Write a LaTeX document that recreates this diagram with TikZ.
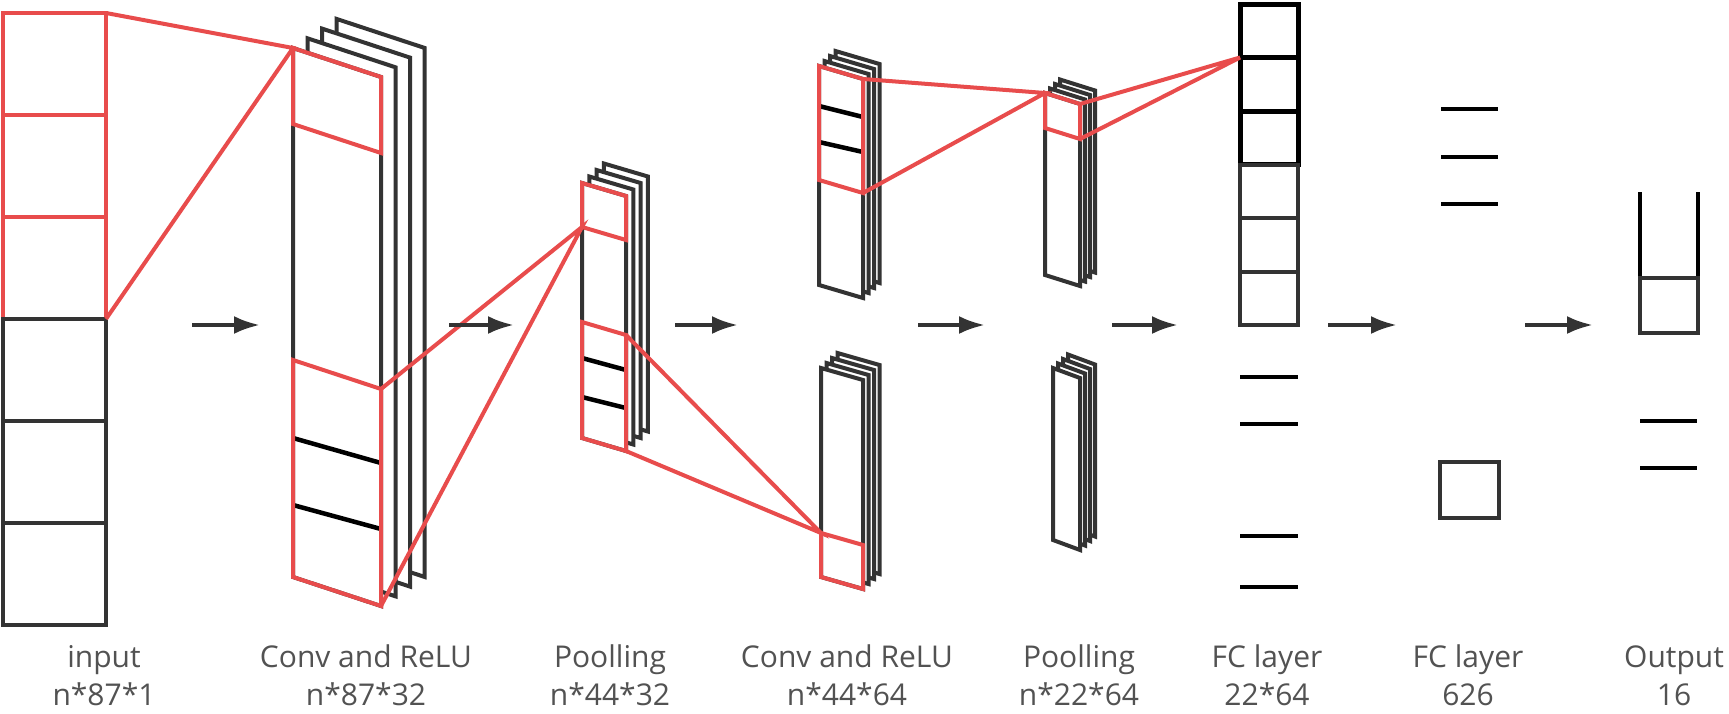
\documentclass[tikz,border=0pt]{standalone}
\usepackage{fontspec}
\setmainfont{Open Sans}
\usetikzlibrary{arrows.meta}

\definecolor{netred}{RGB}{232,76,76}
\definecolor{netgray}{RGB}{51,51,51}

% one feature map: x, y of top left corner, width, height, skew
\newcommand{\slab}[5]{%
  \filldraw[frame, fill=white] (#1,#2) -- ++(#3,#5) -- ++(0,#4) -- ++(-#3,-#5) -- cycle;}
% stack of maps: x, y, width, height, skew, dx, dy, back layers
\newcommand{\stack}[8]{%
  \foreach \k in {#8,...,1} {\slab{#1+\k*#6}{#2+\k*#7}{#3}{#4}{#5}}
  \slab{#1}{#2}{#3}{#4}{#5}}
% red window on a map
\newcommand{\patch}[5]{%
  \draw[win] (#1,#2) -- ++(#3,#5) -- ++(0,#4) -- ++(-#3,-#5) -- cycle;}

\begin{document}
\begin{tikzpicture}[x=1pt, y=-1pt,
    frame/.style={draw=netgray, line width=4pt},
    win/.style={draw=netred, line width=4pt},
    cut/.style={draw=black, line width=4.5pt},
    flow/.style={draw=netgray, line width=4pt, -{Latex[length=26pt,width=18pt]}},
    lbl/.style={font=\fontsize{30}{36}\selectfont, text=black!68, inner sep=0pt, anchor=base}]
    \useasboundingbox (0,0) rectangle (1729,713);

    % Draw the input column
    \foreach \i in {0,1,2} \draw[win] (3,13+\i*102) rectangle ++(103,102);
    \foreach \i in {3,4,5} \draw[frame] (3,13+\i*102) rectangle ++(103,102);

    % Draw the first convolution
    \stack{293}{48}{88}{529}{29}{14.5}{-9.7}{3}
    \draw[cut] (293,438) -- (381,463);
    \draw[cut] (293,505) -- (381,529);
    \patch{293}{48}{88}{76}{29}
    \patch{293}{360}{88}{217}{29}

    % Draw the first pooling
    \stack{582}{183}{44}{255}{13}{7.3}{-6.5}{3}
    \draw[cut] (582,358) -- (626,370);
    \draw[cut] (582,397) -- (626,408);
    \patch{582}{183}{44}{44}{13}
    \patch{582}{322}{44}{116}{13}

    % Draw the second convolution
    \stack{819}{66}{44}{219}{13}{5.5}{-5}{3}
    \draw[cut] (819,106) -- (863,117);
    \draw[cut] (819,142) -- (863,152);
    \patch{819}{66}{44}{114}{13}
    \stack{821}{368}{42}{209}{12}{5.5}{-5}{3}
    \patch{821}{533}{42}{44}{12}

    % Draw the second pooling
    \stack{1045}{93}{35}{182}{11}{5}{-4.5}{3}
    \patch{1045}{93}{35}{35}{11}
    \stack{1053}{368}{27}{172}{10}{5}{-4.5}{3}

    % Draw the FC layers and the output
    \foreach \i in {0,1,2} \draw[cut, line width=5pt] (1240,4+\i*53.5) rectangle ++(58,53.5);
    \foreach \i in {3,4,5} \draw[frame] (1240,4+\i*53.5) rectangle ++(58,53.5);
    \foreach \y in {377,424,536,587} \draw[cut] (1240,\y) -- ++(58,0);
    \foreach \y in {109,157,204} \draw[cut] (1441,\y) -- ++(57,0);
    \draw[frame] (1440,462) rectangle (1499,518);
    \draw[cut] (1640,192) -- (1640,278);
    \draw[cut] (1698,192) -- (1698,278);
    \draw[frame] (1640,278) rectangle (1698,333);
    \foreach \y in {421,468} \draw[cut] (1640,\y) -- ++(57,0);

    % Corners joined by the red lines
    \coordinate (in1) at (106,13);
    \coordinate (in2) at (106,319);
    \coordinate (c1a) at (293,48);
    \coordinate (c1b) at (381,389);
    \coordinate (c1c) at (381,606);
    \coordinate (p1a) at (582,227);
    \coordinate (p1b) at (626,335);
    \coordinate (p1c) at (626,451);
    \coordinate (c2a) at (821,533);
    \coordinate (c2b) at (863,79);
    \coordinate (c2c) at (863,193);
    \coordinate (p2a) at (1045,93);
    \coordinate (p2b) at (1080,104);
    \coordinate (p2c) at (1080,139);
    \coordinate (fc1) at (1240,57.5);

    % Draw the receptive fields
    \draw[win] (in1) -- (c1a) -- (in2);
    \draw[win] (c1b) -- (p1a) -- (c1c);
    \draw[win] (p1b) -- (c2a) -- (p1c);
    \draw[win] (c2b) -- (p2a) -- (c2c);
    \draw[win] (p2b) -- (fc1) -- (p2c);

    % Draw the arrows between the layers
    \foreach \i/\xa/\xb in {1/192/260, 2/449/514, 3/675/738, 4/918/985,
                           5/1112/1178, 6/1328/1397, 7/1525/1593} {
      \coordinate (s\i) at (\xa,325);
      \coordinate (e\i) at (\xb,325);
      \draw[flow] (s\i) -- (e\i);
    }

    % Provide the layer names and sizes
    \foreach \i/\x/\ta/\tb in {1/104/input/n*87*1, 2/366/Conv and ReLU/n*87*32,
        3/610/Poolling/n*44*32, 4/847/Conv and ReLU/n*44*64,
        5/1079/Poolling/n*22*64, 6/1267/FC layer/22*64,
        7/1468/FC layer/626, 8/1674/Output/16} {
      \node[lbl] (name\i) at (\x,667) {\ta};
      \node[lbl] (size\i) at (\x,705) {\tb};
    }
\end{tikzpicture}
\end{document}
